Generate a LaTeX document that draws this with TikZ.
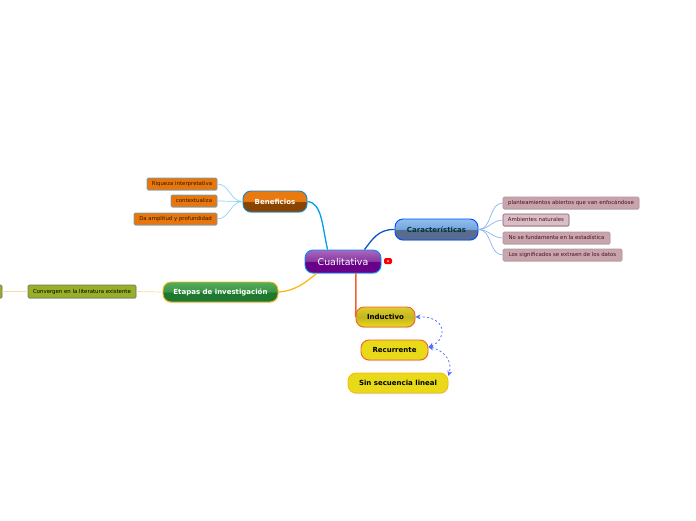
\documentclass[tikz,border=0pt]{standalone}
\usepackage{fontspec}
\setmainfont{DejaVu Sans}
\usetikzlibrary{shadows,arrows.meta}
\definecolor{orangeleaf}{HTML}{E8760C}
\definecolor{roseleaf}{HTML}{C8A4AC}
\definecolor{oliveleaf}{HTML}{98B028}
\definecolor{rosetext}{HTML}{4A1028}
\definecolor{linkblue}{HTML}{00A0E8}
\definecolor{linkdeep}{HTML}{0858C8}
\definecolor{linkgold}{HTML}{FFB810}
\definecolor{linkred}{HTML}{F4602C}
\definecolor{softblue}{HTML}{90D4F4}
\definecolor{softdeep}{HTML}{88B4F0}
\definecolor{softgold}{HTML}{F8DCA0}
\definecolor{yellowtop}{HTML}{E8DA18}
\definecolor{rootlow}{HTML}{680088}
\definecolor{rootmid}{HTML}{8838A0}
\definecolor{roothigh}{HTML}{AA68BE}
\definecolor{benlow}{HTML}{884400}
\definecolor{benhigh}{HTML}{E87A10}
\definecolor{carlow}{HTML}{586C90}
\definecolor{carmid}{HTML}{74A4DC}
\definecolor{carhigh}{HTML}{90C0F0}
\definecolor{etalow}{HTML}{1E7830}
\definecolor{etamid}{HTML}{3C9648}
\definecolor{etahigh}{HTML}{54AC5C}
\definecolor{indmid}{HTML}{C4B420}
\definecolor{indhigh}{HTML}{DCCE2C}
\definecolor{duecolor}{HTML}{4C6CFF}
% Glossy fills
\pgfdeclareverticalshading{glossroot}{100bp}{color(0bp)=(rootlow); color(49bp)=(rootlow); color(51bp)=(rootmid); color(75bp)=(roothigh); color(100bp)=(roothigh)}
\pgfdeclareverticalshading{glossben}{100bp}{color(0bp)=(benlow); color(49bp)=(benlow); color(51bp)=(benhigh); color(100bp)=(benhigh)}
\pgfdeclareverticalshading{glosscar}{100bp}{color(0bp)=(carlow); color(49bp)=(carlow); color(51bp)=(carmid); color(75bp)=(carhigh); color(100bp)=(carhigh)}
\pgfdeclareverticalshading{glosseta}{100bp}{color(0bp)=(etalow); color(49bp)=(etalow); color(51bp)=(etamid); color(75bp)=(etahigh); color(100bp)=(etahigh)}
\pgfdeclareverticalshading{glossind}{100bp}{color(0bp)=(yellowtop); color(25bp)=(yellowtop); color(50bp)=(indmid); color(75bp)=(indhigh); color(100bp)=(indhigh)}
\tikzset{
  topic/.style={rounded corners=8pt, line width=0.9pt, font=\bfseries\fontsize{7}{8}\selectfont,
    inner sep=0pt, drop shadow={shadow xshift=0.4pt,shadow yshift=-1pt,opacity=0.25}},
  leaf/.style={rounded corners=1.2pt, line width=0.6pt, font=\fontsize{5.4}{6}\selectfont,
    text height=3.9pt, text depth=0pt,
    inner sep=0pt, drop shadow={shadow xshift=0.4pt,shadow yshift=-0.8pt,opacity=0.25}},
  orangebox/.style={leaf, fill=orangeleaf, draw=cyan!45!gray, text=black!80!orangeleaf},
  rosebox/.style={leaf, fill=roseleaf, draw=roseleaf!90!black, text=rosetext},
  olivebox/.style={leaf, fill=oliveleaf, draw=black!55, text=black},
  softlink/.style={line width=0.7pt},
  mainlink/.style={line width=1.3pt},
  duelink/.style={dash pattern=on 2pt off 2.4pt, line width=0.8pt, draw=duecolor, {Stealth[length=5pt,width=5pt]}-{Stealth[length=5pt,width=5pt]}}
}
\begin{document}
\begin{tikzpicture}[x=1pt,y=-1pt]
    \useasboundingbox (0,0) rectangle (696,520);
    % Centre
    \node [topic, shading=glossroot, draw=blue!45!cyan, text=white, minimum width=76pt, minimum height=23pt,
        font=\fontsize{9.4}{11}\selectfont] (root) at (343,261.5) {Cualitativa};
    \node [fill=red, rounded corners=1.5pt, minimum width=8pt, minimum height=6pt, inner sep=0pt] (flag) at (388,261) {};
    \fill [white!80!red] (flag.center) circle (1pt);
    % Rami
    \node [topic, shading=glossben, draw=cyan!70!blue, text=white, minimum width=64pt, minimum height=21pt] (ben) at (275,201.5) {Beneficios};
    \node [topic, shading=glosscar, draw=blue!70!cyan, text=teal!40!black, minimum width=83pt, minimum height=21pt] (car) at (436.5,229.5) {Características};
    \node [topic, shading=glosseta, draw=linkgold, text=white, minimum width=115pt, minimum height=20pt] (eta) at (220.5,292) {Etapas de investigación};
    \node [topic, shading=glossind, draw=linkred, text=black, minimum width=59pt, minimum height=20pt] (ind) at (385.5,317) {Inductivo};
    \node [topic, fill=yellowtop, draw=linkred, text=black, minimum width=67pt, minimum height=20pt] (rec) at (394.5,350) {Recurrente};
    \node [topic, fill=yellowtop, draw=linkgold, text=black, minimum width=100pt, minimum height=20pt] (sin) at (398,383) {Sin secuencia lineal};
    % Foglie
    \node [orangebox, minimum width=70pt, minimum height=12pt] (riq) at (182,184) {Riqueza interpretativa};
    \node [orangebox, minimum width=46pt, minimum height=12pt] (con) at (194,201) {contextualiza};
    \node [orangebox, minimum width=83pt, minimum height=12pt] (amp) at (175.5,219) {Da amplitud y profundidad};
    \node [rosebox, minimum width=136pt, minimum height=12pt] (pla) at (571,203) {planteamientos abiertos que van enfocándose};
    \node [rosebox, fill=roseleaf!70!white, draw=rosetext!70, minimum width=66pt, minimum height=12pt] (amb) at (536,220) {Ambientes naturales};
    \node [rosebox, minimum width=107pt, minimum height=12pt] (fun) at (556.5,238) {No se fundamenta en la estadística};
    \node [rosebox, minimum width=119pt, minimum height=12pt] (sig) at (562.5,255) {Los significados se extraen de los datos};
    \node [olivebox, minimum width=108pt, minimum height=13pt] (lit) at (82,291.5) {Convergen en la literatura existente};
    \node [olivebox, minimum width=30pt, minimum height=13pt] (cut) at (-13,291.5) {};
    % Linee
    \draw [mainlink, linkblue] (root.north west) ++(23,0) .. controls (322,225) and (322,203) .. (ben.east);
    \draw [mainlink, linkdeep] (root.north east) ++(-17,0) .. controls (372,240) and (378,229) .. (car.west);
    \draw [mainlink, linkgold] (root.south west) ++(12,0) .. controls (305,283) and (295,291) .. (eta.east);
    \draw [mainlink, linkred, line width=1.5pt] (root.south east) ++(-25.5,0) -- ++(0,36) .. controls (355.5,314) and (355.5,317) .. (ind.west);
    % Foglie: linee
    \foreach \leafname in {riq,con,amp}
        \draw [softlink, softblue] (ben.west) to [out=180,in=0] (\leafname.east);
    \foreach \leafname in {pla,amb,fun,sig}
        \draw [softlink, softdeep] (car.east) to [out=0,in=180] (\leafname.west);
    \draw [softlink, softgold] (eta.west) -- (lit.east);
    \draw [softlink, softgold] (lit.west) -- (cut.east);
    % Frecce
    \draw [duelink] (rec.5) .. controls (447,340) and (448,316) .. (ind.east);
    \draw [duelink] (rec.5) .. controls (443,350) and (453,360) .. (sin.8);
\end{tikzpicture}
\end{document}
